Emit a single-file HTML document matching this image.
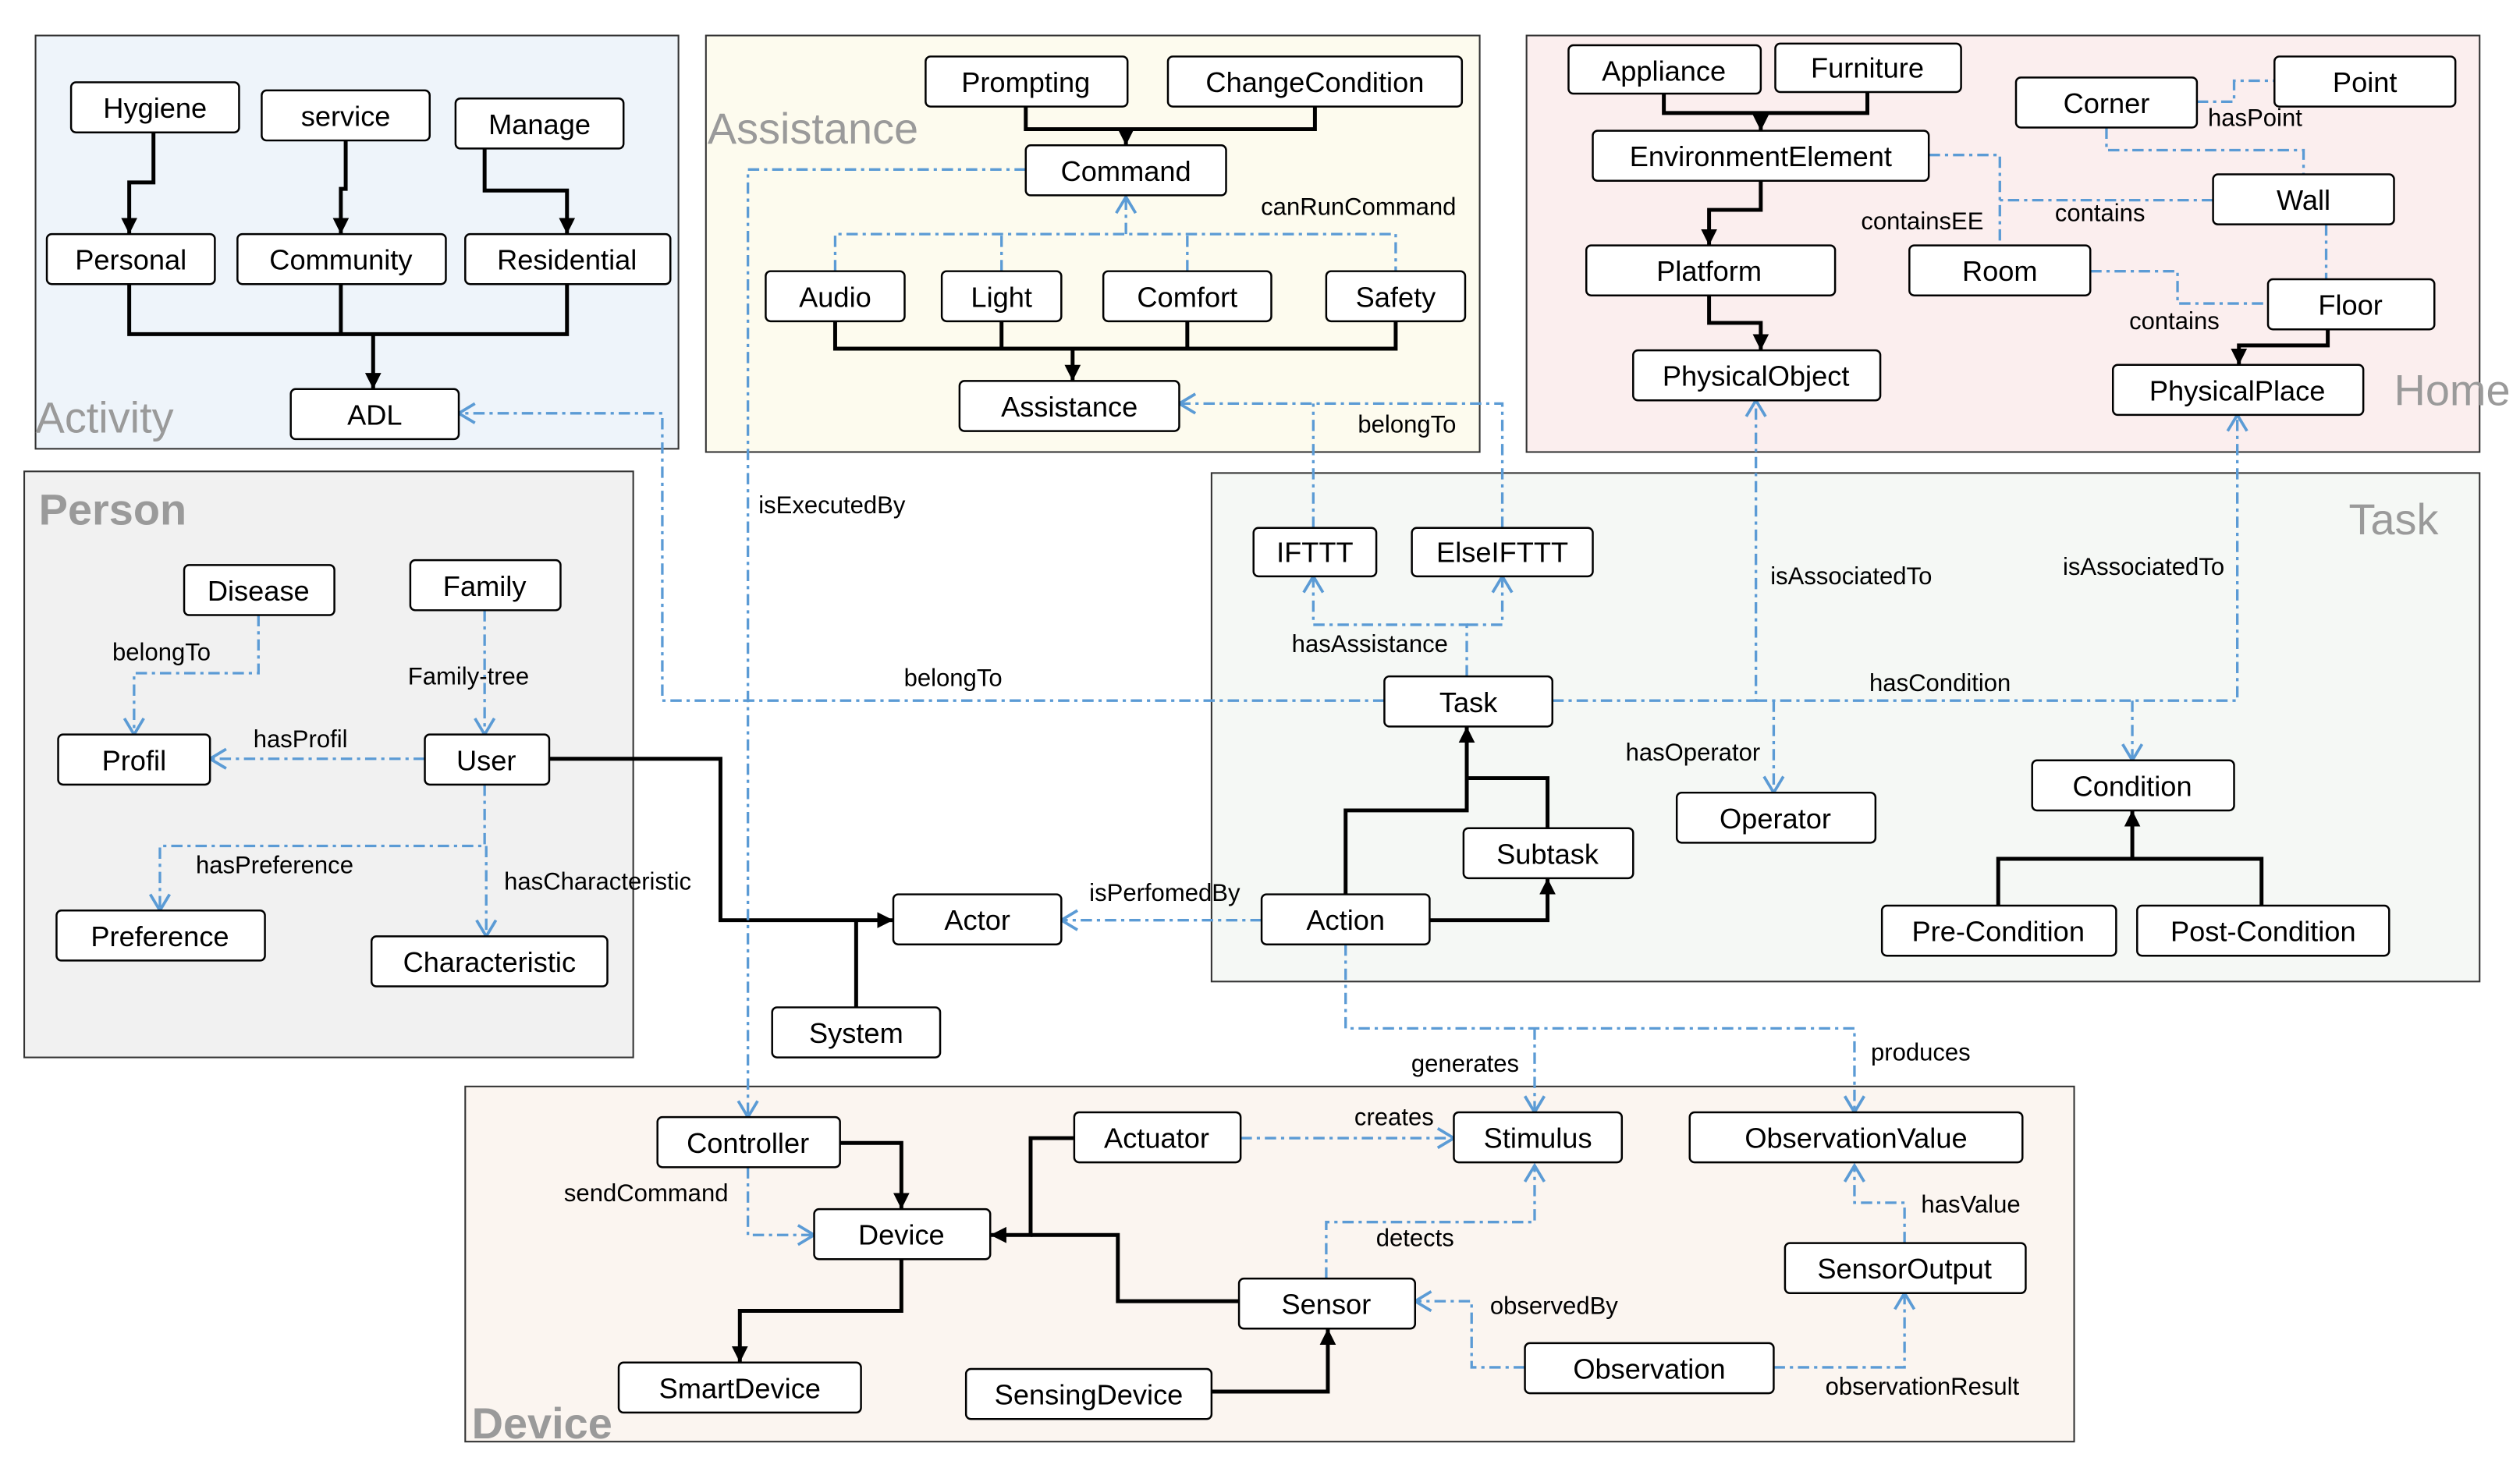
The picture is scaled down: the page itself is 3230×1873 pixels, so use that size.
<!DOCTYPE html>
<html><head><meta charset="utf-8"><style>
html,body{margin:0;padding:0;background:#fff}
svg{display:block}
text{font-family:"Liberation Sans","DejaVu Sans",sans-serif}
.n rect{fill:#fff;stroke:#000;stroke-width:1.2}
.n text{font-size:17.5px;text-anchor:middle;dominant-baseline:central}
.k{fill:none;stroke:#000;stroke-width:2.4;marker-end:url(#ka)}
.k0{fill:none;stroke:#000;stroke-width:2.4}
.b{fill:none;stroke:#5b9bd5;stroke-width:1.6;stroke-dasharray:7 3 2 3;marker-end:url(#ba)}
.b0{fill:none;stroke:#5b9bd5;stroke-width:1.6;stroke-dasharray:7 3 2 3}
.l{font-size:15px;fill:#000;text-anchor:middle}
.p{font-size:27px;fill:#9a9a9a}
</style></head><body>
<svg width="3230" height="1873" viewBox="0 0 1560 905" preserveAspectRatio="none" xmlns="http://www.w3.org/2000/svg">
<defs>
<marker id="ka" markerUnits="userSpaceOnUse" markerWidth="12" markerHeight="12" refX="10" refY="6" orient="auto"><path d="M0,1 L10,6 L0,11 z" fill="#000"/></marker>
<marker id="ba" markerUnits="userSpaceOnUse" markerWidth="14" markerHeight="14" refX="11" refY="7" orient="auto"><path d="M1,1 L11,7 L1,13" fill="none" stroke="#5b9bd5" stroke-width="1.8"/></marker>
</defs>
<rect width="1560" height="905" fill="#fff"/>
<rect x="22" y="22" width="398" height="256" fill="#eef4fa" stroke="#333" stroke-width="1"/>
<rect x="437" y="22" width="479" height="258" fill="#fdfbee" stroke="#333" stroke-width="1"/>
<rect x="945" y="22" width="590" height="258" fill="#fbeeee" stroke="#333" stroke-width="1"/>
<rect x="15" y="292" width="377" height="363" fill="#f1f1f1" stroke="#333" stroke-width="1"/>
<rect x="750" y="293" width="785" height="315" fill="#f5f8f5" stroke="#333" stroke-width="1"/>
<rect x="288" y="673" width="996" height="220" fill="#fbf5f0" stroke="#333" stroke-width="1"/>
<text class="p" x="22" y="268">Activity</text>
<text class="p" x="438" y="89">Assistance</text>
<text class="p" x="1482" y="251">Home</text>
<text class="p" x="24" y="325" font-weight="bold">Person</text>
<text class="p" x="1454" y="331">Task</text>
<text class="p" x="292" y="891" font-weight="bold">Device</text>

<polyline class="k" points="95,82 95,113 80,113 80,145"/>
<polyline class="k" points="214,87 214,117 211,117 211,145"/>
<polyline class="k" points="300,92 300,118 351,118 351,145"/>
<polyline class="k0" points="80,176 80,207 351,207 351,176"/>
<line class="k0" x1="211" y1="176" x2="211" y2="207"/>
<polyline class="k" points="231,207 231,241"/>
<polyline class="k0" points="635,66 635,80 814,80 814,66"/>
<polyline class="k" points="697,80 697,90"/>
<polyline class="k0" points="517,199 517,216 864,216 864,199"/>
<line class="k0" x1="620" y1="199" x2="620" y2="216"/>
<line class="k0" x1="735" y1="199" x2="735" y2="216"/>
<polyline class="k" points="664,216 664,236"/>
<polyline class="k0" points="1030,58 1030,70 1156,70 1156,57"/>
<polyline class="k" points="1090,70 1090,81"/>
<polyline class="k" points="1090,112 1090,130 1058,130 1058,152"/>
<polyline class="k" points="1058,183 1058,200 1090,200 1090,217"/>
<polyline class="k" points="1441,204 1441,214 1386,214 1386,226"/>
<polyline class="k" points="340,470 446,470 446,570 553,570"/>
<polyline class="k0" points="530,624 530,570"/>
<polyline class="k" points="833,554 833,502 908,502 908,450"/>
<polyline class="k0" points="958,513 958,482 908,482"/>
<polyline class="k" points="885,570 958,570 958,544"/>
<polyline class="k0" points="1237,561 1237,532 1400,532 1400,561"/>
<polyline class="k" points="1320,532 1320,502"/>
<polyline class="k" points="520,708 558,708 558,749"/>
<polyline class="k" points="665,705 638,705 638,765 613,765"/>
<polyline class="k0" points="767,806 692,806 692,765 638,765"/>
<polyline class="k" points="558,780 558,812 458,812 458,844"/>
<polyline class="k" points="750,862 822,862 822,823"/>

<polyline class="b" points="160,381 160,417 83,417 83,455"/>
<polyline class="b" points="300,378 300,455"/>
<polyline class="b" points="263,470 130,470"/>
<polyline class="b" points="300,486 300,524 99,524 99,564"/>
<polyline class="b" points="301,524 301,580"/>
<polyline class="b" points="857,434 410,434 410,256 284,256"/>
<polyline class="b" points="635,105 463,105 463,692"/>
<polyline class="b0" points="517,168 517,145 864,145 864,168"/>
<line class="b0" x1="620" y1="168" x2="620" y2="145"/>
<line class="b0" x1="735" y1="168" x2="735" y2="145"/>
<polyline class="b" points="697,145 697,122"/>
<polyline class="b0" points="813,327 813,250"/>
<polyline class="b" points="930,327 930,250 730,250"/>
<polyline class="b" points="908,419 908,387 813,387 813,357"/>
<polyline class="b" points="908,387 930,387 930,357"/>
<polyline class="b" points="961,434 1087,434 1087,248"/>
<polyline class="b" points="1087,434 1385,434 1385,257"/>
<polyline class="b" points="1320,434 1320,471"/>
<polyline class="b" points="1098,434 1098,491"/>
<polyline class="b" points="781,570 657,570"/>
<polyline class="b" points="833,585 833,637 1148,637 1148,689"/>
<polyline class="b" points="950,637 950,689"/>
<polyline class="b" points="768,705 900,705"/>
<polyline class="b" points="463,723 463,765 504,765"/>
<polyline class="b" points="821,792 821,757 950,757 950,722"/>
<polyline class="b" points="944,847 911,847 911,806 876,806"/>
<polyline class="b" points="1098,847 1179,847 1179,801"/>
<polyline class="b" points="1179,770 1179,745 1148,745 1148,722"/>
<polyline class="b0" points="1360,63 1383,63 1383,50 1408,50"/>
<polyline class="b0" points="1304,79 1304,93 1426,93 1426,108"/>
<polyline class="b0" points="1194,96 1238,96 1238,152"/>
<polyline class="b0" points="1370,124 1238,124"/>
<polyline class="b0" points="1294,168 1348,168 1348,188 1404,188"/>
<polyline class="b0" points="1440,139 1440,173"/>

<text class="l" x="100" y="409">belongTo</text>
<text class="l" x="290" y="424">Family-tree</text>
<text class="l" x="186" y="463">hasProfil</text>
<text class="l" x="170" y="541">hasPreference</text>
<text class="l" x="370" y="551">hasCharacteristic</text>
<text class="l" x="590" y="425">belongTo</text>
<text class="l" x="515" y="318">isExecutedBy</text>
<text class="l" x="841" y="133">canRunCommand</text>
<text class="l" x="871" y="268">belongTo</text>
<text class="l" x="848" y="404">hasAssistance</text>
<text class="l" x="1146" y="362">isAssociatedTo</text>
<text class="l" x="1327" y="356">isAssociatedTo</text>
<text class="l" x="1201" y="428">hasCondition</text>
<text class="l" x="1048" y="471">hasOperator</text>
<text class="l" x="721" y="558">isPerfomedBy</text>
<text class="l" x="907" y="664">generates</text>
<text class="l" x="1189" y="657">produces</text>
<text class="l" x="863" y="697">creates</text>
<text class="l" x="400" y="744">sendCommand</text>
<text class="l" x="876" y="772">detects</text>
<text class="l" x="962" y="814">observedBy</text>
<text class="l" x="1190" y="864">observationResult</text>
<text class="l" x="1220" y="751">hasValue</text>
<text class="l" x="1396" y="78">hasPoint</text>
<text class="l" x="1300" y="137">contains</text>
<text class="l" x="1190" y="142">containsEE</text>
<text class="l" x="1346" y="204">contains</text>

<g class="n">
<rect rx="3" x="44" y="51" width="104" height="31"/><text x="96" y="67">Hygiene</text>
<rect rx="3" x="162" y="56" width="104" height="31"/><text x="214" y="72">service</text>
<rect rx="3" x="282" y="61" width="104" height="31"/><text x="334" y="77">Manage</text>
<rect rx="3" x="29" y="145" width="104" height="31"/><text x="81" y="161">Personal</text>
<rect rx="3" x="147" y="145" width="129" height="31"/><text x="211" y="161">Community</text>
<rect rx="3" x="288" y="145" width="127" height="31"/><text x="351" y="161">Residential</text>
<rect rx="3" x="180" y="241" width="104" height="31"/><text x="232" y="257">ADL</text>
<rect rx="3" x="573" y="35" width="125" height="31"/><text x="635" y="51">Prompting</text>
<rect rx="3" x="723" y="35" width="182" height="31"/><text x="814" y="51">ChangeCondition</text>
<rect rx="3" x="635" y="90" width="124" height="31"/><text x="697" y="106">Command</text>
<rect rx="3" x="474" y="168" width="86" height="31"/><text x="517" y="184">Audio</text>
<rect rx="3" x="583" y="168" width="74" height="31"/><text x="620" y="184">Light</text>
<rect rx="3" x="683" y="168" width="104" height="31"/><text x="735" y="184">Comfort</text>
<rect rx="3" x="821" y="168" width="86" height="31"/><text x="864" y="184">Safety</text>
<rect rx="3" x="594" y="236" width="136" height="31"/><text x="662" y="252">Assistance</text>
<rect rx="3" x="971" y="28" width="119" height="30"/><text x="1030" y="44">Appliance</text>
<rect rx="3" x="1099" y="27" width="115" height="30"/><text x="1156" y="42">Furniture</text>
<rect rx="3" x="1248" y="48" width="112" height="31"/><text x="1304" y="64">Corner</text>
<rect rx="3" x="1408" y="35" width="112" height="31"/><text x="1464" y="51">Point</text>
<rect rx="3" x="986" y="81" width="208" height="31"/><text x="1090" y="97">EnvironmentElement</text>
<rect rx="3" x="1370" y="108" width="112" height="31"/><text x="1426" y="124">Wall</text>
<rect rx="3" x="982" y="152" width="154" height="31"/><text x="1058" y="168">Platform</text>
<rect rx="3" x="1182" y="152" width="112" height="31"/><text x="1238" y="168">Room</text>
<rect rx="3" x="1404" y="173" width="103" height="31"/><text x="1455" y="189">Floor</text>
<rect rx="3" x="1011" y="217" width="153" height="31"/><text x="1087" y="233">PhysicalObject</text>
<rect rx="3" x="1308" y="226" width="155" height="31"/><text x="1385" y="242">PhysicalPlace</text>
<rect rx="3" x="114" y="350" width="93" height="31"/><text x="160" y="366">Disease</text>
<rect rx="3" x="254" y="347" width="93" height="31"/><text x="300" y="363">Family</text>
<rect rx="3" x="36" y="455" width="94" height="31"/><text x="83" y="471">Profil</text>
<rect rx="3" x="263" y="455" width="77" height="31"/><text x="301" y="471">User</text>
<rect rx="3" x="35" y="564" width="129" height="31"/><text x="99" y="580">Preference</text>
<rect rx="3" x="230" y="580" width="146" height="31"/><text x="303" y="596">Characteristic</text>
<rect rx="3" x="776" y="327" width="76" height="30"/><text x="814" y="342">IFTTT</text>
<rect rx="3" x="874" y="327" width="112" height="30"/><text x="930" y="342">ElseIFTTT</text>
<rect rx="3" x="857" y="419" width="104" height="31"/><text x="909" y="435">Task</text>
<rect rx="3" x="1038" y="491" width="123" height="31"/><text x="1099" y="507">Operator</text>
<rect rx="3" x="1258" y="471" width="125" height="31"/><text x="1320" y="487">Condition</text>
<rect rx="3" x="906" y="513" width="105" height="31"/><text x="958" y="529">Subtask</text>
<rect rx="3" x="781" y="554" width="104" height="31"/><text x="833" y="570">Action</text>
<rect rx="3" x="553" y="554" width="104" height="31"/><text x="605" y="570">Actor</text>
<rect rx="3" x="478" y="624" width="104" height="31"/><text x="530" y="640">System</text>
<rect rx="3" x="1165" y="561" width="145" height="31"/><text x="1237" y="577">Pre-Condition</text>
<rect rx="3" x="1323" y="561" width="156" height="31"/><text x="1401" y="577">Post-Condition</text>
<rect rx="3" x="407" y="692" width="113" height="31"/><text x="463" y="708">Controller</text>
<rect rx="3" x="665" y="689" width="103" height="31"/><text x="716" y="705">Actuator</text>
<rect rx="3" x="900" y="689" width="104" height="31"/><text x="952" y="705">Stimulus</text>
<rect rx="3" x="1046" y="689" width="206" height="31"/><text x="1149" y="705">ObservationValue</text>
<rect rx="3" x="504" y="749" width="109" height="31"/><text x="558" y="765">Device</text>
<rect rx="3" x="767" y="792" width="109" height="31"/><text x="821" y="808">Sensor</text>
<rect rx="3" x="1105" y="770" width="149" height="31"/><text x="1179" y="786">SensorOutput</text>
<rect rx="3" x="944" y="832" width="154" height="31"/><text x="1021" y="848">Observation</text>
<rect rx="3" x="383" y="844" width="150" height="31"/><text x="458" y="860">SmartDevice</text>
<rect rx="3" x="598" y="848" width="152" height="31"/><text x="674" y="864">SensingDevice</text>
</g>
</svg>
</body></html>
